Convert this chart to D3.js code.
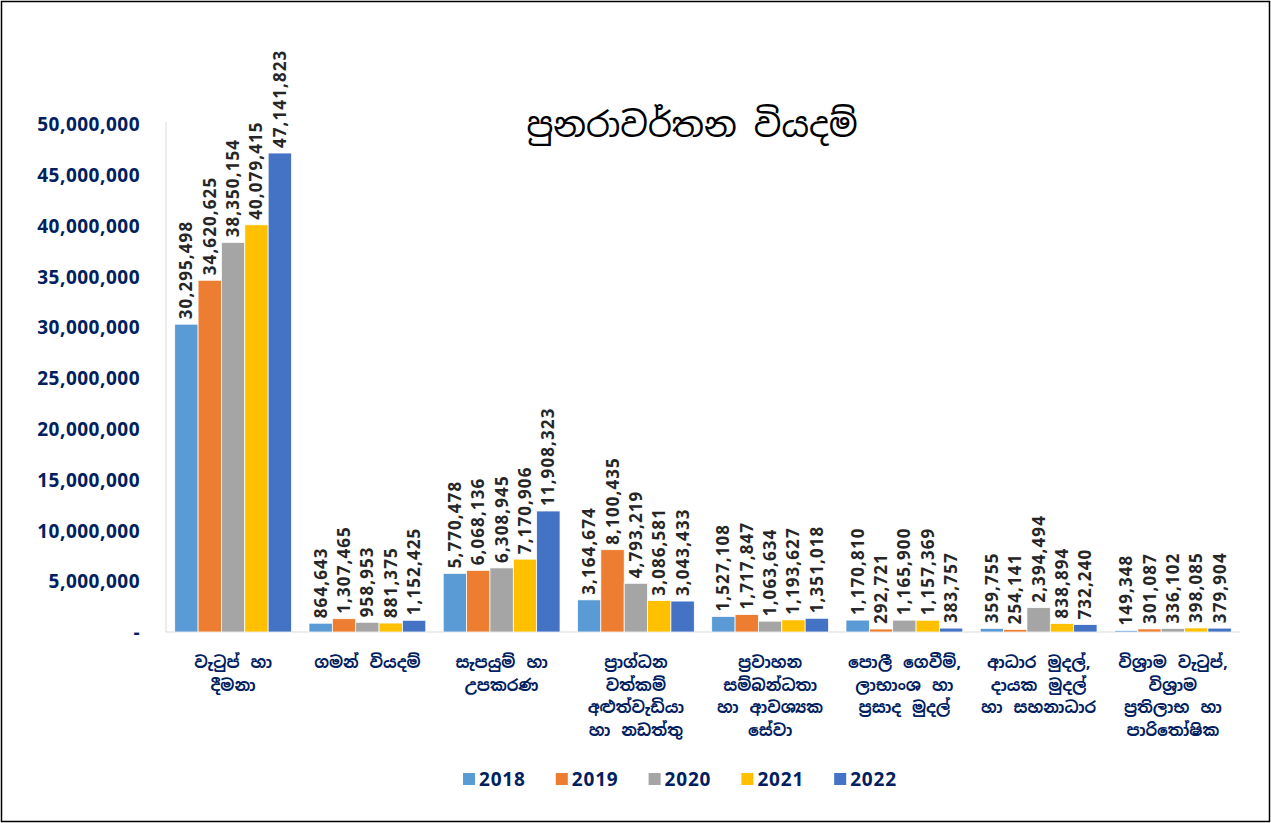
<!DOCTYPE html>
<html>
<head>
<meta charset="utf-8">
<script src="https://cdn.jsdelivr.net/npm/d3@7"></script>
<style>
  body { margin: 0; background: #fff; }
  svg { display: block; }
</style>
</head>
<body>
<div id="chart"></div>
<script>
// dati del grafico
let categorie = [
    ["වැටුප් හා", "දීමනා"],
    ["ගමන් වියදම්"],
    ["සැපයුම් හා", "උපකරණ"],
    ["ප්‍රාග්ධන", "වත්කම්", "අළුත්වැඩියා", "හා නඩත්තු"],
    ["ප්‍රවාහන", "සම්බන්ධතා", "හා ආවශ්‍යක", "සේවා"],
    ["පොලී ගෙවීම්,", "ලාභාංශ හා", "ප්‍රසාද මුදල්"],
    ["ආධාර මුදල්,", "දායක මුදල්", "හා සහනාධාර"],
    ["විශ්‍රාම වැටුප්,", "විශ්‍රාම", "ප්‍රතිලාභ හා", "පාරිතෝෂික"]
];
let anni = ["2018", "2019", "2020", "2021", "2022"];
let v2018 = [30295498, 864643, 5770478, 3164674, 1527108, 1170810, 359755, 149348];
let v2019 = [34620625, 1307465, 6068136, 8100435, 1717847, 292721, 254141, 301087];
let v2020 = [38350154, 958953, 6308945, 4793219, 1063634, 1165900, 2394494, 336102];
let v2021 = [40079415, 881375, 7170906, 3086581, 1193627, 1157369, 838894, 398085];
let v2022 = [47141823, 1152425, 11908323, 3043433, 1351018, 383757, 732240, 379904];
let serie = [v2018, v2019, v2020, v2021, v2022];
let colori = ["#5B9BD5", "#ED7D31", "#A5A5A5", "#FFC000", "#4472C4"];
let ticks = [0, 5000000, 10000000, 15000000, 20000000, 25000000, 30000000, 35000000, 40000000, 45000000, 50000000];
let titolo = "පුනරාවර්තන වියදම්";

let W = 1271, H = 823;
let mSx = 166, mDx = 1240, mSu = 124, mGiu = 632;
let fontSin = "'Noto Sans Sinhala', 'Iskoola Pota', 'Noto Sans', sans-serif";

let svg = d3.select("#chart").append("svg")
    .attr("width", W)
    .attr("height", H);

// bordo esterno
svg.append("rect")
    .attr("x", 1.5).attr("y", 1.5)
    .attr("width", W - 3).attr("height", H - 3)
    .style("fill", "#fff")
    .style("stroke", "#000")
    .style("stroke-width", 1.5);

let x0 = d3.scaleBand()
    .domain(d3.range(categorie.length))
    .range([mSx, mDx])
    .paddingInner(0.13)
    .paddingOuter(0.065);

let x1 = d3.scaleBand()
    .domain(anni)
    .range([0, x0.bandwidth()]);

let y = d3.scaleLinear()
    .domain([0, 50000000])
    .range([mGiu, mSu]);

// asse y (solo etichette)
let yAxis = d3.axisLeft(y)
    .tickValues(ticks)
    .tickSize(0)
    .tickPadding(0)
    .tickFormat((d) => d === 0 ? "-" : d3.format(",")(d));

let gy = svg.append("g")
    .attr("transform", `translate(140,0)`)
    .call(yAxis);
gy.select(".domain").remove();
gy.selectAll("text")
    .style("font-family", "'Open Sans', sans-serif")
    .style("font-weight", "bold")
    .style("font-size", "19px")
    .style("letter-spacing", "0.5px")
    .style("fill", "#002060")
    .attr("dy", "0.35em");

// linee degli assi
svg.append("line")
    .attr("x1", mSx).attr("x2", mSx)
    .attr("y1", mSu - 2).attr("y2", mGiu)
    .style("stroke", "#d9d9d9");
svg.append("line")
    .attr("x1", mSx).attr("x2", mDx)
    .attr("y1", mGiu).attr("y2", mGiu)
    .style("stroke", "#d9d9d9");

// barre
let gruppi = svg.append("g")
    .selectAll("g")
    .data(categorie)
    .enter().append("g")
    .attr("transform", (d, i) => `translate(${x0(i)},0)`);

gruppi.selectAll("rect")
    .data((d, i) => anni.map((a, j) => ({ anno: a, valore: serie[j][i], c: colori[j] })))
    .enter().append("rect")
    .attr("x", (d) => x1(d.anno))
    .attr("y", (d) => y(d.valore))
    .attr("width", x1.bandwidth())
    .attr("height", (d) => mGiu - y(d.valore))
    .style("fill", (d) => d.c)
    .style("stroke", "#fff")
    .style("stroke-width", 0.75);

// etichette dei valori, ruotate
gruppi.selectAll("text.val")
    .data((d, i) => anni.map((a, j) => ({ anno: a, valore: serie[j][i] })))
    .enter().append("text")
    .attr("class", "val")
    .attr("transform", (d) => `translate(${x1(d.anno) + x1.bandwidth() / 2 + 6},${y(d.valore) - 5}) rotate(-90)`)
    .text((d) => d3.format(",")(d.valore))
    .style("font-family", "'Open Sans', sans-serif")
    .style("font-weight", "bold")
    .style("font-size", "17px")
    .style("letter-spacing", "1.1px")
    .style("fill", "#262626");

// etichette delle categorie
let catLabel = svg.append("g")
    .selectAll("text")
    .data(categorie)
    .enter().append("text")
    .attr("x", (d, i) => x0(i) + x0.bandwidth() / 2)
    .attr("y", 668)
    .style("text-anchor", "middle")
    .style("font-family", fontSin)
    .style("font-weight", "bold")
    .style("font-size", "16px")
    .style("word-spacing", "3px")
    .style("fill", "#002060");

catLabel.selectAll("tspan")
    .data((d) => d)
    .enter().append("tspan")
    .attr("x", function() { return d3.select(this.parentNode).attr("x"); })
    .attr("dy", (d, i) => i === 0 ? 0 : 22.5)
    .text((d) => d);

// titolo
svg.append("text")
    .attr("x", 692)
    .attr("y", 137)
    .style("text-anchor", "middle")
    .style("font-family", fontSin)
    .style("font-size", "34px")
    .style("fill", "#000")
    .text(titolo);

// legenda
let legenda = svg.append("g")
    .selectAll("g")
    .data(anni)
    .enter().append("g")
    .attr("transform", (d, i) => `translate(${463 + i * 92.8},779)`);

legenda.append("rect")
    .attr("x", 0).attr("y", -6)
    .attr("width", 12).attr("height", 12)
    .style("fill", (d, i) => colori[i]);

legenda.append("text")
    .attr("x", 16)
    .attr("dy", "0.35em")
    .text((d) => d)
    .style("font-family", "'Open Sans', sans-serif")
    .style("font-weight", "bold")
    .style("font-size", "19px")
    .style("letter-spacing", "0.8px")
    .style("fill", "#002060");
</script>
</body>
</html>
